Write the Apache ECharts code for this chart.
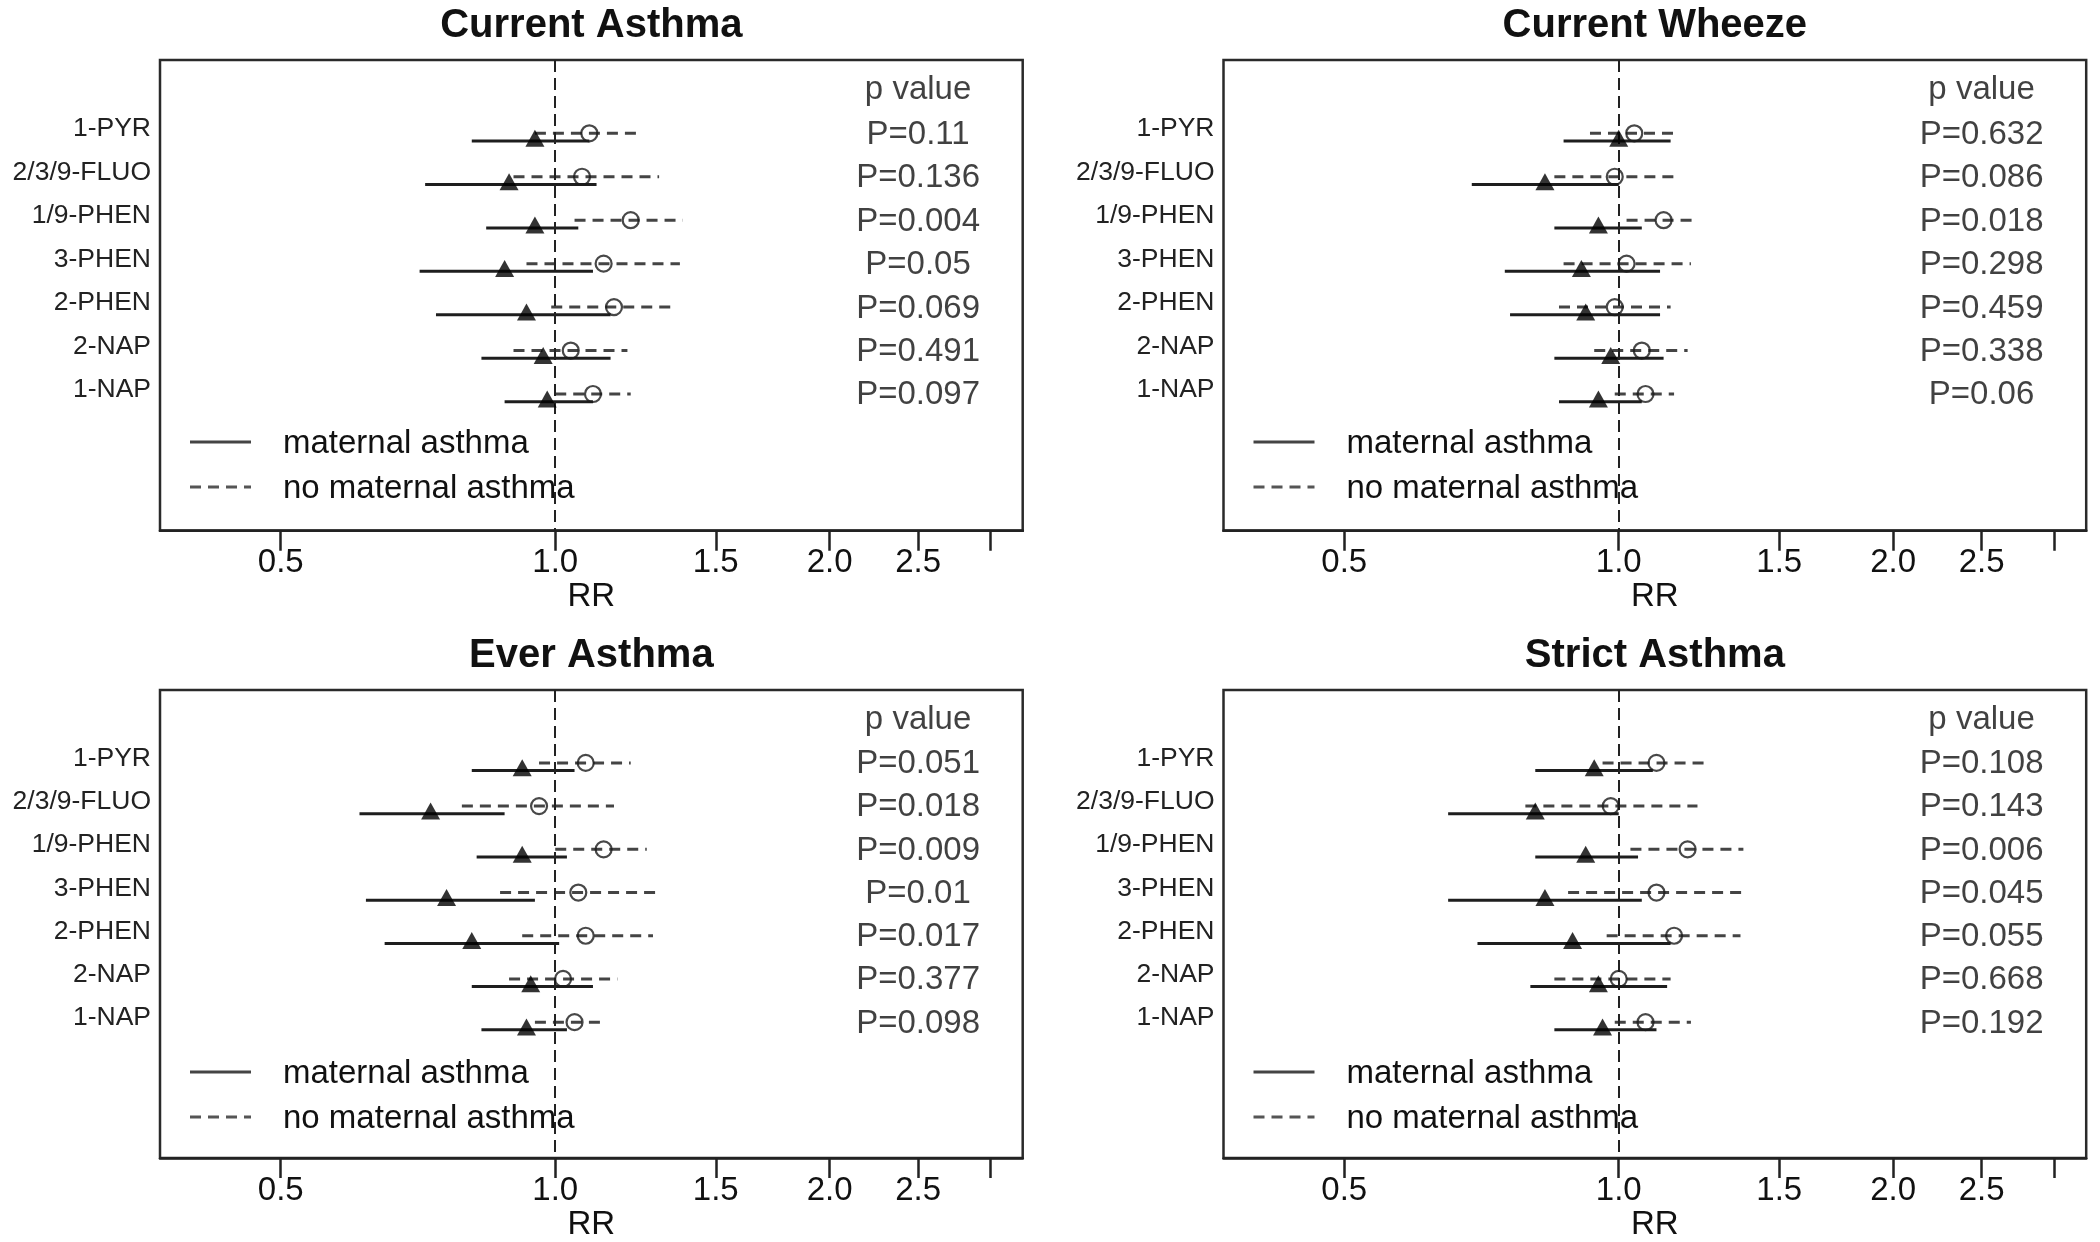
<!DOCTYPE html>
<html>
<head>
<meta charset="utf-8">
<script src="https://cdn.jsdelivr.net/npm/echarts@6.0.0/dist/echarts.min.js"></script>
<style>
html,body{margin:0;padding:0;background:#ffffff;}
#chart{width:2100px;height:1242px;}
</style>
</head>
<body>
<div id="chart"></div>
<script>
// ---------------- DATA ----------------
const categories = ['1-PYR', '2/3/9-FLUO', '1/9-PHEN', '3-PHEN', '2-PHEN', '2-NAP', '1-NAP'];
const panelTitles = ['Current Asthma', 'Current Wheeze', 'Ever Asthma', 'Strict Asthma'];
const xTickValues = [0.5, 1, 1.5, 2, 2.5, 3];
const xLabelValues = [0.5, 1, 1.5, 2, 2.5];
const legendLabels = ['maternal asthma', 'no maternal asthma'];
const pHeader = 'p value';
const axisName = 'RR';

// Current Asthma
const currentAsthmaMatRR   = [0.95, 0.89, 0.95, 0.88, 0.93, 0.97, 0.98];
const currentAsthmaMatLo   = [0.81, 0.72, 0.84, 0.71, 0.74, 0.83, 0.88];
const currentAsthmaMatHi   = [1.09, 1.11, 1.06, 1.10, 1.15, 1.15, 1.10];
const currentAsthmaNoRR    = [1.09, 1.07, 1.21, 1.13, 1.16, 1.04, 1.10];
const currentAsthmaNoLo    = [0.95, 0.90, 1.05, 0.93, 0.99, 0.90, 1.00];
const currentAsthmaNoHi    = [1.24, 1.30, 1.38, 1.37, 1.35, 1.20, 1.21];
const currentAsthmaP       = ['P=0.11', 'P=0.136', 'P=0.004', 'P=0.05', 'P=0.069', 'P=0.491', 'P=0.097'];

// Current Wheeze
const currentWheezeMatRR   = [1.00, 0.83, 0.95, 0.91, 0.92, 0.98, 0.95];
const currentWheezeMatLo   = [0.87, 0.69, 0.85, 0.75, 0.76, 0.85, 0.86];
const currentWheezeMatHi   = [1.14, 1.00, 1.06, 1.11, 1.11, 1.12, 1.06];
const currentWheezeNoRR    = [1.04, 0.99, 1.12, 1.02, 0.99, 1.06, 1.07];
const currentWheezeNoLo    = [0.93, 0.85, 1.02, 0.87, 0.86, 0.94, 0.99];
const currentWheezeNoHi    = [1.15, 1.16, 1.22, 1.20, 1.14, 1.19, 1.15];
const currentWheezeP       = ['P=0.632', 'P=0.086', 'P=0.018', 'P=0.298', 'P=0.459', 'P=0.338', 'P=0.06'];

// Ever Asthma
const everAsthmaMatRR      = [0.92, 0.73, 0.92, 0.76, 0.81, 0.94, 0.93];
const everAsthmaMatLo      = [0.81, 0.61, 0.82, 0.62, 0.65, 0.81, 0.83];
const everAsthmaMatHi      = [1.05, 0.88, 1.03, 0.95, 1.01, 1.10, 1.03];
const everAsthmaNoRR       = [1.08, 0.96, 1.13, 1.06, 1.08, 1.02, 1.05];
const everAsthmaNoLo       = [0.96, 0.79, 1.00, 0.87, 0.92, 0.89, 0.95];
const everAsthmaNoHi       = [1.21, 1.16, 1.26, 1.29, 1.28, 1.17, 1.13];
const everAsthmaP          = ['P=0.051', 'P=0.018', 'P=0.009', 'P=0.01', 'P=0.017', 'P=0.377', 'P=0.098'];

// Strict Asthma
const strictAsthmaMatRR    = [0.94, 0.81, 0.92, 0.83, 0.89, 0.95, 0.96];
const strictAsthmaMatLo    = [0.81, 0.65, 0.81, 0.65, 0.70, 0.80, 0.85];
const strictAsthmaMatHi    = [1.09, 1.00, 1.05, 1.06, 1.14, 1.13, 1.10];
const strictAsthmaNoRR     = [1.10, 0.98, 1.19, 1.10, 1.15, 1.00, 1.07];
const strictAsthmaNoLo     = [0.96, 0.79, 1.03, 0.88, 0.97, 0.85, 0.99];
const strictAsthmaNoHi     = [1.26, 1.22, 1.37, 1.37, 1.36, 1.14, 1.20];
const strictAsthmaP        = ['P=0.108', 'P=0.143', 'P=0.006', 'P=0.045', 'P=0.055', 'P=0.668', 'P=0.192'];

// ---------------- LAYOUT / STYLE ----------------
const FONT = '"Liberation Sans", Arial, Helvetica, sans-serif';
const TXT = '#111';
const GRID_W = 862.7, GRID_H = 470.7;
const gridPos = [[160, 60], [1223.5, 60], [160, 690], [1223.5, 690]];
const X_MIN = 0.3686, X_MAX = 3.256;
const Y_MIN = -1.687, Y_MAX = 9.146;
const TRI_OFF = 0.177;      // maternal line sits below the no-maternal line (row units)
const P_OFF = 0.03;
const P_X = 2.5;
const HEADER_Y = -1.0;

const panels = [
  {mRR: currentAsthmaMatRR, mLo: currentAsthmaMatLo, mHi: currentAsthmaMatHi, nRR: currentAsthmaNoRR, nLo: currentAsthmaNoLo, nHi: currentAsthmaNoHi, p: currentAsthmaP},
  {mRR: currentWheezeMatRR, mLo: currentWheezeMatLo, mHi: currentWheezeMatHi, nRR: currentWheezeNoRR, nLo: currentWheezeNoLo, nHi: currentWheezeNoHi, p: currentWheezeP},
  {mRR: everAsthmaMatRR, mLo: everAsthmaMatLo, mHi: everAsthmaMatHi, nRR: everAsthmaNoRR, nLo: everAsthmaNoLo, nHi: everAsthmaNoHi, p: everAsthmaP},
  {mRR: strictAsthmaMatRR, mLo: strictAsthmaMatLo, mHi: strictAsthmaMatHi, nRR: strictAsthmaNoRR, nLo: strictAsthmaNoLo, nHi: strictAsthmaNoHi, p: strictAsthmaP}
];

const option = {
  animation: false,
  backgroundColor: '#ffffff',
  title: [], grid: [], xAxis: [], yAxis: [], series: [], graphic: []
};

function ciRenderer(color, dash) {
  return function (params, api) {
    const y = api.value(2);
    const p1 = api.coord([api.value(0), y]);
    const p2 = api.coord([api.value(1), y]);
    return {
      type: 'line',
      shape: {x1: p1[0], y1: p1[1], x2: p2[0], y2: p2[1]},
      style: {stroke: color, lineWidth: 3, lineDash: dash, fill: null}
    };
  };
}

panels.forEach((pn, i) => {
  const [gl, gt] = gridPos[i];
  option.title.push({
    text: panelTitles[i], left: gl + GRID_W / 2, top: gt - 54, textAlign: 'center', padding: 0,
    textStyle: {fontFamily: FONT, fontSize: 40, fontWeight: 'bold', color: TXT}
  });
  option.grid.push({left: gl, top: gt, width: GRID_W, height: GRID_H, show: true,
    borderColor: '#2a2a2a', borderWidth: 2.5, backgroundColor: 'transparent', containLabel: false});
  option.xAxis.push({
    type: 'log', gridIndex: i, min: X_MIN, max: X_MAX, position: 'bottom',
    name: axisName, nameLocation: 'middle', nameGap: 43,
    nameTextStyle: {fontFamily: FONT, fontSize: 33, color: TXT},
    axisLine: {show: true, onZero: false, lineStyle: {color: '#222', width: 2.5}},
    splitLine: {show: false}, minorTick: {show: false},
    axisTick: {show: true, customValues: xTickValues, length: 20, lineStyle: {color: '#222', width: 2.5}},
    axisLabel: {show: true, customValues: xLabelValues, margin: 16,
      formatter: v => Number(v).toFixed(1),
      fontFamily: FONT, fontSize: 33, color: TXT}
  });
  option.yAxis.push({
    type: 'value', gridIndex: i, min: Y_MIN, max: Y_MAX, inverse: true,
    axisLine: {show: false, onZero: false}, axisTick: {show: false}, splitLine: {show: false},
    axisLabel: {show: true, customValues: categories.map((c, k) => k - 0.1), margin: 9,
      formatter: v => categories[Math.round(v + 0.1)] || '',
      fontFamily: FONT, fontSize: 26.5, color: '#222'}
  });

  const matCI = categories.map((c, k) => [pn.mLo[k], pn.mHi[k], k + TRI_OFF]);
  const noCI = categories.map((c, k) => [pn.nLo[k], pn.nHi[k], k]);
  option.series.push({
    type: 'custom', name: legendLabels[1], xAxisIndex: i, yAxisIndex: i,
    renderItem: ciRenderer('#444', [11, 7]), encode: {x: [0, 1], y: 2}, data: noCI, z: 2,
    markLine: {silent: true, symbol: ['none', 'none'], label: {show: false},
      lineStyle: {type: [12, 6], color: '#222', width: 2}, data: [{xAxis: 1}]}
  });
  option.series.push({
    type: 'custom', name: legendLabels[0], xAxisIndex: i, yAxisIndex: i,
    renderItem: ciRenderer('#1e1e1e', null), encode: {x: [0, 1], y: 2}, data: matCI, z: 3
  });
  option.series.push({
    type: 'scatter', xAxisIndex: i, yAxisIndex: i, symbol: 'triangle', symbolSize: [19, 17],
    symbolOffset: [0, -2.8], itemStyle: {color: '#000'}, z: 5,
    data: categories.map((c, k) => [pn.mRR[k], k + TRI_OFF])
  });
  option.series.push({
    type: 'scatter', xAxisIndex: i, yAxisIndex: i, symbol: 'circle', symbolSize: 16, z: 6,
    itemStyle: {color: 'rgba(0,0,0,0)', borderColor: '#1a1a1a', borderWidth: 2.2},
    data: categories.map((c, k) => [pn.nRR[k], k])
  });
  option.series.push({
    type: 'scatter', xAxisIndex: i, yAxisIndex: i, symbolSize: 0, z: 7, silent: true,
    label: {show: true, position: 'inside', formatter: d => d.data[2],
      fontFamily: FONT, fontSize: 33, color: TXT},
    data: [[P_X, HEADER_Y, pHeader]].concat(categories.map((c, k) => [P_X, k + P_OFF, pn.p[k]]))
  });

  // legend (drawn per panel)
  option.graphic.push(
    {type: 'line', shape: {x1: gl + 30, y1: gt + 382, x2: gl + 91, y2: gt + 382},
      style: {stroke: '#444', lineWidth: 3}},
    {type: 'text', x: gl + 123, y: gt + 384,
      style: {text: legendLabels[0], fontFamily: FONT, fontSize: 33, fill: TXT, verticalAlign: 'middle', align: 'left'}},
    {type: 'line', shape: {x1: gl + 30, y1: gt + 427, x2: gl + 91, y2: gt + 427},
      style: {stroke: '#555', lineWidth: 3, lineDash: [11, 7]}},
    {type: 'text', x: gl + 123, y: gt + 429,
      style: {text: legendLabels[1], fontFamily: FONT, fontSize: 33, fill: TXT, verticalAlign: 'middle', align: 'left'}}
  );
});

const chart = echarts.init(document.getElementById('chart'), null, {renderer: 'canvas', width: 2100, height: 1242});
chart.setOption(option);
</script>
</body>
</html>
